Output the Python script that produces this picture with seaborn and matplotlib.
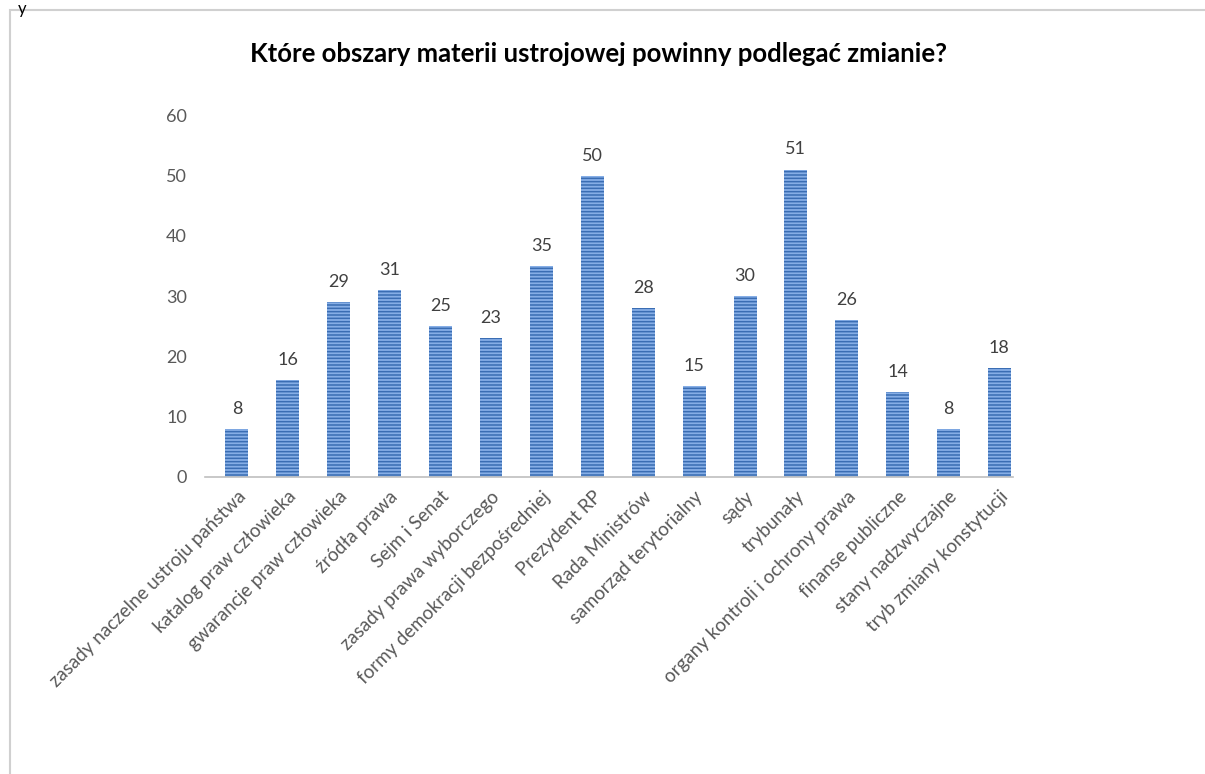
import matplotlib
matplotlib.use("Agg")
import matplotlib.pyplot as plt
import pandas as pd
import seaborn as sns
from matplotlib.patches import Rectangle

categories = [
    "zasady naczelne ustroju państwa",
    "katalog praw człowieka",
    "gwarancje praw człowieka",
    "źródła prawa",
    "Sejm i Senat",
    "zasady prawa wyborczego",
    "formy demokracji bezpośredniej",
    "Prezydent RP",
    "Rada Ministrów",
    "samorząd terytorialny",
    "sądy",
    "trybunały",
    "organy kontroli i ochrony prawa",
    "finanse publiczne",
    "stany nadzwyczajne",
    "tryb zmiany konstytucji",
]
values = [8, 16, 29, 31, 25, 23, 35, 50, 28, 15, 30, 51, 26, 14, 8, 18]
y_ticks = [0, 10, 20, 30, 40, 50, 60]
title = "Które obszary materii ustrojowej powinny podlegać zmianie?"

sns.set_style("white")
plt.rcParams["font.family"] = ["Lato", "DejaVu Sans"]
plt.rcParams["hatch.color"] = "#3a6db3"
plt.rcParams["hatch.linewidth"] = 1.1

df = pd.DataFrame({"obszar": categories, "liczba": values})

fig = plt.figure(figsize=(12.05, 7.74), dpi=100)
ax = fig.add_axes([0.170, 0.384, 0.671, 0.467])

sns.barplot(data=df, x="obszar", y="liczba", color="#86aee6",
            width=0.45, saturation=1, ax=ax)
for bar in ax.patches:
    bar.set_hatch("-----")
    bar.set_edgecolor("#3a6db3")
    bar.set_linewidth(0)

for bar, v in zip(ax.patches, values):
    ax.text(bar.get_x() + bar.get_width() / 2, v + 2.0, str(v),
            ha="center", va="bottom", fontsize=13, color="#404040")

ax.set_ylim(0, 60)
ax.set_xlim(-0.63, 15.28)
ax.set_yticks(y_ticks)
ax.set_yticklabels([str(t) for t in y_ticks], fontsize=13, color="#595959")
ax.set_xticks(range(len(categories)))
ax.set_xticklabels(categories, rotation=45, ha="right", rotation_mode="anchor",
                   fontsize=13.5, color="#595959")
ax.tick_params(axis="both", length=0)
ax.tick_params(axis="y", pad=13)
ax.tick_params(axis="x", pad=8)
ax.set_xlabel("")
ax.set_ylabel("")
for side in ["left", "right", "top"]:
    ax.spines[side].set_visible(False)
ax.spines["bottom"].set_color("#bfbfbf")
ax.spines["bottom"].set_linewidth(1.2)

fig.text(0.497, 0.93, title, ha="center", va="center", fontsize=18.5,
         fontweight="bold", color="#000000")

# outer chart frame
fig.patches.append(Rectangle((10 / 1205, -0.01), 1.02, 1 - 10 / 774 + 0.01,
                             transform=fig.transFigure, fill=False,
                             edgecolor="#d0d0d0", linewidth=1.5))
fig.text(18 / 1205, 0.999, "y", ha="left", va="top", fontsize=12, color="#000000")

fig.savefig("out.png", dpi=100)
